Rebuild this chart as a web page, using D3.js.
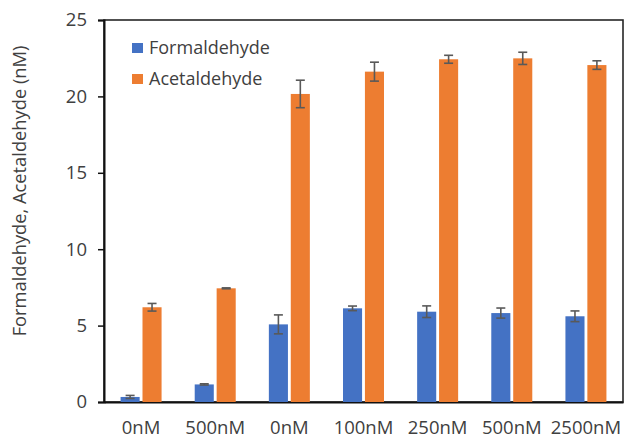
<!DOCTYPE html>
<html>
<head>
<meta charset="utf-8">
<script src="https://cdn.jsdelivr.net/npm/d3@7"></script>
<style>
    body { margin: 0; background: #fff; }
    text { font-family: "Open Sans", sans-serif; fill: #404040; }
</style>
</head>
<body>
<div id="chart"></div>
<script>
// data
let categories = ["0nM", "500nM", "0nM", "100nM", "250nM", "500nM", "2500nM"];
let seriesNames = ["Formaldehyde", "Acetaldehyde"];
let formaldehyde = [0.33, 1.15, 5.08, 6.13, 5.91, 5.82, 5.61];
let formaldehydeErr = [0.1, 0.04, 0.62, 0.15, 0.38, 0.33, 0.35];
let acetaldehyde = [6.2, 7.44, 20.16, 21.62, 22.43, 22.49, 22.05];
let acetaldehydeErr = [0.25, 0.03, 0.9, 0.62, 0.26, 0.4, 0.28];
let yTicks = [0, 5, 10, 15, 20, 25];

let colors = ["#4472C4", "#ED7D31"];

let margin = {top: 20, right: 2, bottom: 36, left: 104};
let width = 625 - margin.left - margin.right;
let height = 438 - margin.top - margin.bottom;

let svg = d3.select("#chart").append("svg")
    .attr("width", 625)
    .attr("height", 438)
    .append("g")
    .attr("transform", `translate(${margin.left},${margin.top})`);

// build rows for drawing
let rows = categories.map((c, i) => ({
    idx: i,
    values: [
        {s: 0, v: formaldehyde[i], e: formaldehydeErr[i]},
        {s: 1, v: acetaldehyde[i], e: acetaldehydeErr[i]}
    ]
}));

let x = d3.scaleBand()
    .domain(d3.range(categories.length))
    .range([0, width]);

let xInner = d3.scaleBand()
    .domain([0, 1])
    .range([x.bandwidth() / 2 - 20.5, x.bandwidth() / 2 + 20.5])
    .paddingInner(0.13);

let y = d3.scaleLinear()
    .domain([0, 25])
    .range([height, 0]);

// frame
svg.append("rect")
    .attr("x", 0).attr("y", 0)
    .attr("width", width).attr("height", height)
    .attr("fill", "none")
    .attr("stroke", "#262626")
    .attr("stroke-width", 1.6);

// y axis
let yAxis = svg.append("g")
    .call(d3.axisLeft(y).tickValues(yTicks).tickSize(6).tickPadding(11));
yAxis.select(".domain").attr("stroke", "#111").attr("stroke-width", 2);
yAxis.selectAll(".tick line").attr("stroke", "#111").attr("stroke-width", 1.5);
yAxis.selectAll(".tick text")
    .style("font-family", "'Open Sans', sans-serif")
    .style("font-size", "18.5px")
    .attr("fill", "#404040");

// x axis labels
let xAxis = svg.append("g")
    .attr("transform", `translate(0,${height})`)
    .call(d3.axisBottom(x).tickFormat(i => categories[i]).tickSize(0).tickPadding(19));
xAxis.select(".domain").attr("stroke", "#111").attr("stroke-width", 2);
xAxis.selectAll(".tick text")
    .style("font-family", "'Open Sans', sans-serif")
    .style("font-size", "18.5px")
    .attr("fill", "#404040");

// bars
let groups = svg.selectAll(".group")
    .data(rows)
    .enter().append("g")
    .attr("class", "group")
    .attr("transform", d => `translate(${x(d.idx)},0)`);

groups.selectAll("rect")
    .data(d => d.values)
    .enter().append("rect")
    .attr("x", d => xInner(d.s))
    .attr("y", d => y(d.v))
    .attr("width", xInner.bandwidth())
    .attr("height", d => height - y(d.v))
    .attr("fill", d => colors[d.s]);

// error bars
let err = groups.selectAll(".err")
    .data(d => d.values)
    .enter().append("g")
    .attr("class", "err")
    .attr("stroke", "#595959")
    .attr("stroke-width", 1.6);

err.append("line")
    .attr("x1", d => xInner(d.s) + xInner.bandwidth() / 2)
    .attr("x2", d => xInner(d.s) + xInner.bandwidth() / 2)
    .attr("y1", d => y(d.v - d.e))
    .attr("y2", d => y(d.v + d.e));

[-1, 1].forEach(sign => {
    err.append("line")
        .attr("x1", d => xInner(d.s) + xInner.bandwidth() / 2 - 4.5)
        .attr("x2", d => xInner(d.s) + xInner.bandwidth() / 2 + 4.5)
        .attr("y1", d => y(d.v + sign * d.e))
        .attr("y2", d => y(d.v + sign * d.e));
});

// legend
let legend = svg.selectAll(".legend")
    .data(seriesNames)
    .enter().append("g")
    .attr("class", "legend")
    .attr("transform", (d, i) => `translate(28,${23 + i * 31})`);

legend.append("rect")
    .attr("width", 11).attr("height", 10)
    .attr("fill", (d, i) => colors[i]);

legend.append("text")
    .attr("x", 17)
    .attr("y", 10.5)
    .style("font-size", "18px")
    .text(d => d);

// y axis title
svg.append("text")
    .attr("transform", `translate(${-78},${height / 2 - 20}) rotate(-90)`)
    .attr("text-anchor", "middle")
    .style("font-size", "18.3px")
    .attr("fill", "#262626")
    .text("Formaldehyde, Acetaldehyde (nM)");
</script>
</body>
</html>
